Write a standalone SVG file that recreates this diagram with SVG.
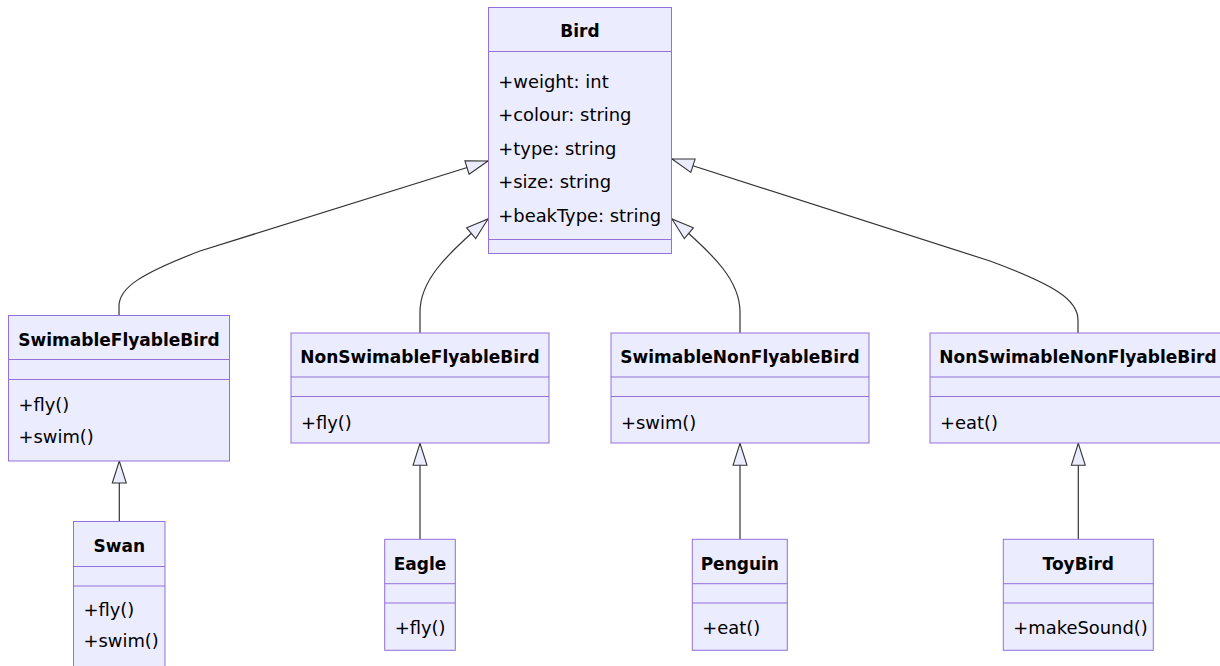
<svg xmlns="http://www.w3.org/2000/svg" width="1220" height="666" viewBox="0 0 1220 666">
<defs>
<style>
.box{fill:#ECECFF;stroke:#9370DB;stroke-width:1}
.div{stroke:#9370DB;stroke-width:1}
.t{font-family:"DejaVu Sans",Verdana,sans-serif;font-size:17.9px;fill:#000}
.h{font-size:17px;font-weight:bold;text-anchor:middle}
.edge{fill:none;stroke:#333;stroke-width:1.2}
</style>
<marker id="ext" markerUnits="userSpaceOnUse" viewBox="0 0 24 16" markerWidth="24" markerHeight="16" refX="23" refY="8" orient="auto">
<path d="M1,1 L23,8 L1,15 Z" fill="#ECECFF" stroke="#333" stroke-width="1.1"/>
</marker>
</defs>
<rect width="1220" height="666" fill="#fff"/>
<g id="connectors">
<path class="edge" marker-end="url(#ext)" d="M119,316 L119,306 C119,288 140,274 200,251 L488,161"/>
<path class="edge" marker-end="url(#ext)" d="M420,333 L420,312 C420,282 443,257 488,219"/>
<path class="edge" marker-end="url(#ext)" d="M740,333 L740,312 C740,282 717,257 672,219"/>
<path class="edge" marker-end="url(#ext)" d="M1078,333 L1078,320 C1078,300 1055,285 990,261 L672,159"/>
<path class="edge" marker-end="url(#ext)" d="M119.3,521.5 L119.3,461"/>
<path class="edge" marker-end="url(#ext)" d="M420,539.3 L420,443.3"/>
<path class="edge" marker-end="url(#ext)" d="M740,539.3 L740,443.3"/>
<path class="edge" marker-end="url(#ext)" d="M1078.3,539.3 L1078.3,443.3"/>
</g>
<g id="Bird">
<rect class="box" x="488.5" y="7.5" width="183" height="246"/>
<line class="div" x1="488.5" y1="51.5" x2="671.5" y2="51.5"/>
<line class="div" x1="488.5" y1="239.5" x2="671.5" y2="239.5"/>
<text class="t h" x="580" y="37">Bird</text>
<text class="t" x="498.3" y="87.5">+weight: int</text>
<text class="t" x="498.3" y="121">+colour: string</text>
<text class="t" x="498.3" y="154.6">+type: string</text>
<text class="t" x="498.3" y="188.2">+size: string</text>
<text class="t" x="498.3" y="221.8">+beakType: string</text>
</g>
<g id="SwimableFlyableBird">
<rect class="box" x="8.5" y="315.5" width="221" height="145.5"/>
<line class="div" x1="8.5" y1="359.5" x2="229.5" y2="359.5"/>
<line class="div" x1="8.5" y1="379.5" x2="229.5" y2="379.5"/>
<text class="t h" x="119" y="345.5">SwimableFlyableBird</text>
<text class="t" x="18.5" y="411">+fly()</text>
<text class="t" x="18.5" y="443">+swim()</text>
</g>
<g id="NonSwimableFlyableBird">
<rect class="box" x="291" y="333" width="258" height="110"/>
<line class="div" x1="291" y1="377" x2="549" y2="377"/>
<line class="div" x1="291" y1="396.5" x2="549" y2="396.5"/>
<text class="t h" x="420" y="363">NonSwimableFlyableBird</text>
<text class="t" x="301" y="428.5">+fly()</text>
</g>
<g id="SwimableNonFlyableBird">
<rect class="box" x="611" y="333" width="258" height="110"/>
<line class="div" x1="611" y1="377" x2="869" y2="377"/>
<line class="div" x1="611" y1="396.5" x2="869" y2="396.5"/>
<text class="t h" x="740" y="363">SwimableNonFlyableBird</text>
<text class="t" x="621" y="428.5">+swim()</text>
</g>
<g id="NonSwimableNonFlyableBird">
<rect class="box" x="930" y="333" width="296" height="110"/>
<line class="div" x1="930" y1="377" x2="1226" y2="377"/>
<line class="div" x1="930" y1="396.5" x2="1226" y2="396.5"/>
<text class="t h" x="1078" y="363">NonSwimableNonFlyableBird</text>
<text class="t" x="940" y="428.5">+eat()</text>
</g>
<g id="Swan">
<rect class="box" x="73.5" y="521.5" width="91.5" height="146"/>
<line class="div" x1="73.5" y1="566.5" x2="165" y2="566.5"/>
<line class="div" x1="73.5" y1="586" x2="165" y2="586"/>
<text class="t h" x="119.3" y="551.5">Swan</text>
<text class="t" x="83.5" y="616">+fly()</text>
<text class="t" x="83.5" y="647">+swim()</text>
</g>
<g id="Eagle">
<rect class="box" x="384.7" y="539.3" width="70.6" height="111"/>
<line class="div" x1="384.7" y1="583.7" x2="455.3" y2="583.7"/>
<line class="div" x1="384.7" y1="603" x2="455.3" y2="603"/>
<text class="t h" x="420" y="569.5">Eagle</text>
<text class="t" x="394.7" y="634">+fly()</text>
</g>
<g id="Penguin">
<rect class="box" x="692.3" y="539.3" width="95" height="111"/>
<line class="div" x1="692.3" y1="583.7" x2="787.3" y2="583.7"/>
<line class="div" x1="692.3" y1="603" x2="787.3" y2="603"/>
<text class="t h" x="739.8" y="569.5">Penguin</text>
<text class="t" x="702.3" y="634">+eat()</text>
</g>
<g id="ToyBird">
<rect class="box" x="1003.3" y="539.3" width="150" height="111"/>
<line class="div" x1="1003.3" y1="583.7" x2="1153.3" y2="583.7"/>
<line class="div" x1="1003.3" y1="603" x2="1153.3" y2="603"/>
<text class="t h" x="1078.3" y="569.5">ToyBird</text>
<text class="t" x="1013.3" y="634">+makeSound()</text>
</g>
</svg>
